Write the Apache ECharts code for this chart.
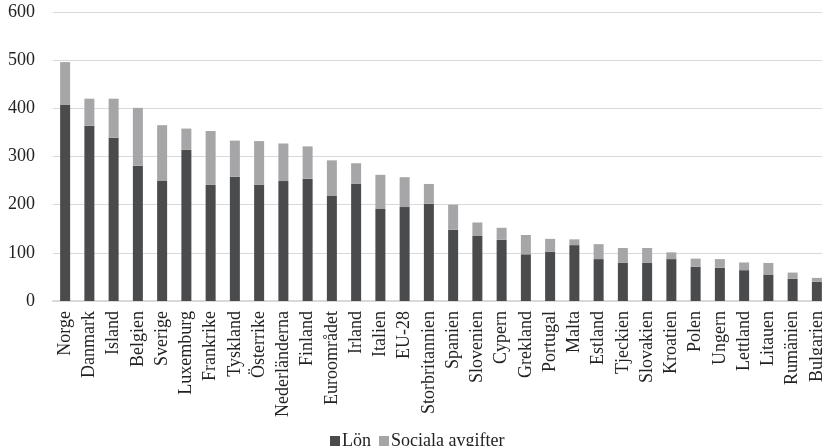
<!DOCTYPE html>
<html>
<head>
<meta charset="utf-8">
<script src="https://cdn.jsdelivr.net/npm/echarts@6/dist/echarts.min.js"></script>
<style>
  html, body { margin: 0; padding: 0; background: #fff; }
  #chart { width: 822px; height: 446px; }
</style>
</head>
<body>
<div id="chart"></div>
<script>
const countries = ['Norge', 'Danmark', 'Island', 'Belgien', 'Sverige', 'Luxemburg', 'Frankrike', 'Tyskland',
  'Österrike', 'Nederländerna', 'Finland', 'Euroområdet', 'Irland', 'Italien', 'EU-28', 'Storbritannien',
  'Spanien', 'Slovenien', 'Cypern', 'Grekland', 'Portugal', 'Malta', 'Estland', 'Tjeckien', 'Slovakien',
  'Kroatien', 'Polen', 'Ungern', 'Lettland', 'Litauen', 'Rumänien', 'Bulgarien'];

// Lön (nedre del av stapeln)
const lon = [407, 364, 339, 281, 250, 314, 241, 258, 241, 249, 254, 218, 243, 191, 195, 202,
  148, 135, 127, 97, 102, 116, 87, 79, 79, 87, 71, 69, 64, 55, 46, 40];

// Sociala avgifter (övre del)
const sociala = [89, 56, 81, 120, 115, 44, 112, 75, 91, 78, 67, 74, 43, 71, 62, 41,
  52, 28, 25, 40, 27, 12, 31, 31, 31, 14, 17, 18, 16, 24, 13, 8];

const yTicks = [0, 100, 200, 300, 400, 500, 600];

const font = '"Liberation Serif", "DejaVu Serif", serif';

const myChart = echarts.init(document.getElementById('chart'));

myChart.setOption({
  animation: false,
  color: ['#4a4b4d', '#a6a6a8'],
  textStyle: { fontFamily: font },
  grid: {
    left: 53,
    top: 12,
    width: 776,
    bottom: 145,
    outerBoundsMode: 'none',
    containLabel: false,
  },
  legend: {
    left: 325,
    top: 427,
    itemWidth: 10,
    itemHeight: 10,
    itemGap: 8,
    icon: 'rect',
    textStyle: { fontFamily: font, fontSize: 18, color: '#222', padding: [0, 0, 0, -3] },
    data: ['Lön', 'Sociala avgifter'],
  },
  xAxis: {
    type: 'category',
    data: countries,
    axisTick: { show: false },
    axisLine: { lineStyle: { color: '#d9d9d9', width: 2 } },
    axisLabel: {
      rotate: 90,
      interval: 0,
      margin: 10,
      fontFamily: font,
      fontSize: 18,
      color: '#222',
    },
  },
  yAxis: {
    type: 'value',
    min: yTicks[0],
    max: yTicks[yTicks.length - 1],
    interval: 100,
    axisLine: { show: false },
    axisTick: { show: false },
    splitLine: { lineStyle: { color: '#d9d9d9', width: 1 } },
    axisLabel: {
      margin: 18,
      fontFamily: font,
      fontSize: 18,
      color: '#222',
    },
  },
  series: [
    {
      name: 'Lön',
      type: 'bar',
      stack: 'total',
      barWidth: 10,
      data: lon,
    },
    {
      name: 'Sociala avgifter',
      type: 'bar',
      stack: 'total',
      barWidth: 10,
      data: sociala,
    },
  ],
});
</script>
</body>
</html>
